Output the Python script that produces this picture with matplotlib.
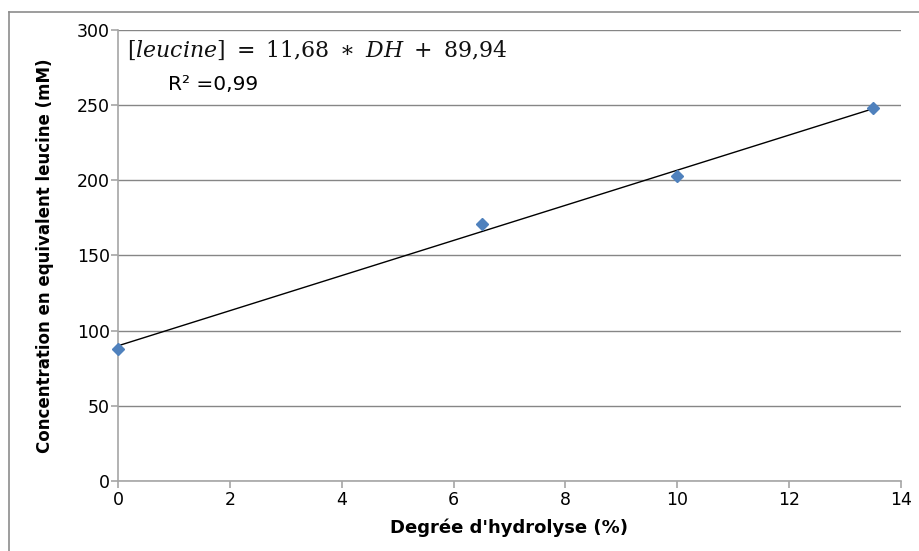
import numpy as np
import matplotlib
matplotlib.use('Agg')
import matplotlib.pyplot as plt
from matplotlib.lines import Line2D

# data
dh = [0, 6.5, 10, 13.5]
leucine = [88, 171, 203, 248]
slope, intercept = 11.68, 89.94
x_ticks = [0, 2, 4, 6, 8, 10, 12, 14]
y_ticks = [0, 50, 100, 150, 200, 250, 300]

plt.rcParams['font.family'] = ['DejaVu Sans']
plt.rcParams['mathtext.fontset'] = 'dejavuserif'

fig = plt.figure(figsize=(9.2, 5.51), dpi=100)
ax = fig.add_axes([0.1283, 0.127, 0.851, 0.8186])

# outer frame (top and left only, the rest is cut off)
fig.add_artist(Line2D([0.0098, 1.0], [0.978, 0.978], color='#8c8c8c', lw=1.2, transform=fig.transFigure))
fig.add_artist(Line2D([0.0098, 0.0098], [0.0, 0.978], color='#8c8c8c', lw=1.2, transform=fig.transFigure))

# trend line
xs = np.array([dh[0], dh[-1]])
ax.plot(xs, slope * xs + intercept, color='black', lw=1, zorder=3)
ax.plot(dh, leucine, linestyle='none', marker='D', markersize=6.5,
        color='#4F81BD', zorder=4, clip_on=False)

ax.set_xlim(0, 14)
ax.set_ylim(0, 300)
ax.set_xticks(x_ticks)
ax.set_yticks(y_ticks)
ax.grid(axis='y', color='#868686', lw=1)
ax.set_axisbelow(True)
for s in ['top', 'right']:
    ax.spines[s].set_visible(False)
ax.spines['left'].set_color('#a6a6a6')
ax.spines['bottom'].set_color('#a6a6a6')
ax.spines['left'].set_linewidth(1.2)
ax.spines['bottom'].set_linewidth(1.2)
ax.tick_params(axis='both', colors='#a6a6a6', labelcolor='black', labelsize=12.5,
               length=5, width=1.2, direction='out')
ax.tick_params(axis='x', pad=2)
ax.tick_params(axis='y', pad=1)

ax.set_xlabel("Degrée d'hydrolyse (%)", fontsize=13, fontweight='bold', labelpad=7)
ax.set_ylabel('Concentration en equivalent leucine (mM)', fontsize=12, fontweight='bold',
              labelpad=16)

ax.text(0.012, 0.955, r'$[leucine]\ =\ 11{,}68\ \ast\ DH\ +\ 89{,}94$', transform=ax.transAxes,
        fontsize=15.8, color='#111111', va='center', ha='left')
ax.text(0.064, 0.88, 'R² =0,99', transform=ax.transAxes, fontsize=14.5,
        va='center', ha='left')

fig.savefig('out.png', dpi=100)
